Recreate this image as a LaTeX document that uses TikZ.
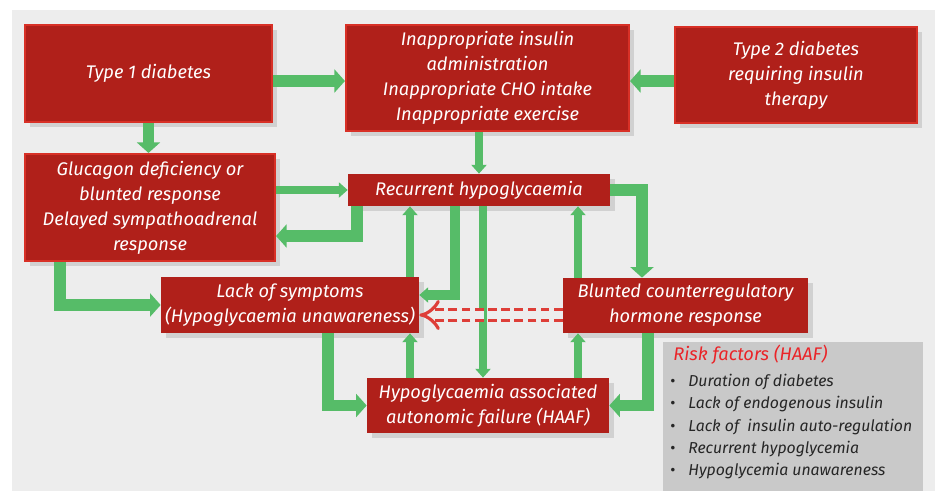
\documentclass[tikz,border=0pt]{standalone}
\usepackage{fontspec}
\setmainfont{Fira Sans}
\usetikzlibrary{arrows.meta,shadows}

\definecolor{boxred}{RGB}{176,32,26}
\definecolor{boxedge}{RGB}{216,48,38}
\definecolor{arrowgreen}{RGB}{86,188,104}
\definecolor{panelgray}{RGB}{237,237,237}
\definecolor{riskgray}{RGB}{201,201,201}
\definecolor{riskred}{RGB}{234,36,40}
\definecolor{dashred}{RGB}{222,62,56}

\begin{document}
\begin{tikzpicture}[x=0.02cm, y=-0.02cm,
  redbox/.style={fill=boxred, text=white, align=center, inner sep=0pt,
    font=\itshape\fontsize{10.4}{14.2}\selectfont,
    drop shadow={shadow xshift=3pt, shadow yshift=-3pt, opacity=0.25}},
  bevelbox/.style={redbox, draw=boxedge, line width=1.2pt},
  bigarrow/.style={draw=arrowgreen, line width=6.5pt, line join=miter,
    -{Triangle[length=6pt,width=13pt]}},
  thinarrow/.style={draw=arrowgreen, line width=4.5pt,
    -{Triangle[length=5pt,width=8.5pt]}},
  riskitem/.style={anchor=west, inner sep=0pt, text=black!85,
    font=\itshape\fontsize{9}{12}\selectfont},
  riskdot/.style={inner sep=0pt, text=black!85, font=\fontsize{9}{9}\selectfont}]
%\draw [help lines, step=50] (0,0) grid (938,491);

\useasboundingbox (0,0) rectangle (938,491);
\fill [panelgray] (12,10) rectangle (935,491);

% boxes
\node [bevelbox, minimum width=4.94cm, minimum height=1.94cm] (t1) at (148.5,73.5) {Type 1 diabetes};
\node [bevelbox, minimum width=5.66cm, minimum height=2.12cm] (inap) at (487.5,78) {Inappropriate insulin\\administration\\Inappropriate CHO intake\\Inappropriate exercise};
\node [bevelbox, minimum width=4.84cm, minimum height=1.92cm] (t2) at (796,75) {Type 2 diabetes\\requiring insulin\\therapy};
\node [bevelbox, minimum width=5.0cm, minimum height=2.14cm] (gluc) at (150,207.5) {Glucagon deficiency or\\blunted response\\Delayed sympathoadrenal\\response};
\node [redbox, minimum width=5.24cm, minimum height=0.64cm] (rec) at (479,190) {Recurrent hypoglycaemia};
\node [redbox, minimum width=5.16cm, minimum height=1.12cm] (lack) at (290,305) {Lack of symptoms\\(Hypoglycaemia unawareness)};
\node [redbox, minimum width=4.9cm, minimum height=1.1cm] (blunt) at (685.5,305.5) {Blunted counterregulatory\\hormone response};
\node [redbox, minimum width=4.84cm, minimum height=1.1cm] (haaf) at (488,405.5) {Hypoglycaemia associated\\autonomic failure (HAAF)};

% risk factors
\node [fill=riskgray, minimum width=5.2cm, minimum height=2.98cm, inner sep=0pt] (risk) at (793,416.5) {};
\node [anchor=west, inner sep=0pt, text=riskred, font=\itshape\fontsize{10.4}{13}\selectfont] (risktitle) at (673,355) {Risk factors (HAAF)};
\node [riskdot] (d1) at (673,383) {•};
\node [riskdot] (d2) at (673,405) {•};
\node [riskdot] (d3) at (673,428) {•};
\node [riskdot] (d4) at (673,450) {•};
\node [riskdot] (d5) at (673,472) {•};
\node [riskitem] (r1) at (688,382) {Duration of diabetes};
\node [riskitem] (r2) at (688,404) {Lack of endogenous insulin};
\node [riskitem] (r3) at (688,427) {Lack of\ \ insulin auto-regulation};
\node [riskitem] (r4) at (688,449) {Recurrent hypoglycemia};
\node [riskitem] (r5) at (688,471) {Hypoglycemia unawareness};

% guides
\coordinate (ya) at (0,81);
\coordinate (k1) at (357,236);
\coordinate (k2) at (60,0);
\coordinate (k3) at (455,295);
\coordinate (k4) at (410,0);
\coordinate (k5) at (483,0);
\coordinate (k6) at (642,0);
\coordinate (k7) at (578,0);
\coordinate (k8) at (648,0);
\coordinate (k9) at (328,0);
\coordinate (k10) at (0,315);

% arrows
\draw [bigarrow] (t1.east |- ya) -- (inap.west |- ya);
\draw [bigarrow] (t2.west |- ya) -- (inap.east |- ya);
\draw [bigarrow] (t1.south) -- (t1.south |- gluc.north);
\draw [thinarrow] (rec.north |- inap.south) -- (rec.north);
\draw [thinarrow] (gluc.east |- rec.west) -- (rec.west);
\draw [bigarrow] (rec.south -| k1) |- (gluc.east |- k1);
\draw [bigarrow] (gluc.south -| k2) |- (lack.west);
\draw [thinarrow, line width=5.5pt] (rec.south -| k3) |- (lack.east |- k3);
\draw [thinarrow] (lack.north -| k4) -- (rec.south -| k4);
\draw [thinarrow] (haaf.north -| k4) -- (lack.south -| k4);
\draw [thinarrow] (rec.south -| k5) -- (haaf.north -| k5);
\draw [bigarrow] (rec.east) -| (blunt.north -| k6);
\draw [thinarrow] (blunt.north -| k7) -- (rec.south -| k7);
\draw [thinarrow] (haaf.north -| k7) -- (blunt.south -| k7);
\draw [bigarrow] (blunt.south -| k8) |- (haaf.east);
\draw [bigarrow] (lack.south -| k9) |- (haaf.west);
\draw [dashred, line width=1.8pt, double=panelgray, double distance=4pt,
  dash pattern=on 5pt off 2.5pt, -{Implies}] (blunt.west |- k10) -- (lack.east |- k10);

\end{tikzpicture}
\end{document}
